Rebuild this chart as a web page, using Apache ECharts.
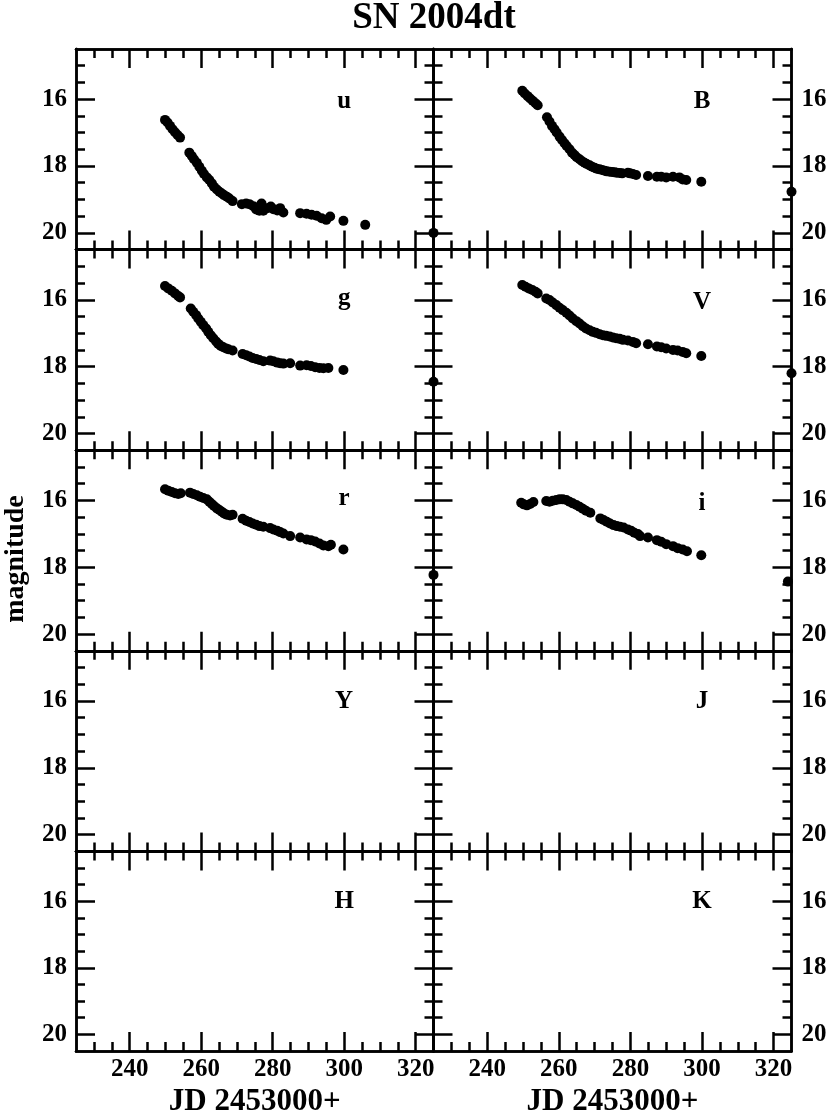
<!DOCTYPE html>
<html>
<head>
<meta charset="utf-8">
<script src="https://cdn.jsdelivr.net/npm/echarts@6/dist/echarts.min.js"></script>
<style>html,body{margin:0;padding:0;background:#fff}#c{width:830px;height:1118px}</style>
</head>
<body>
<div id="c"></div>
<script>
// ---- data (JD - 2453000, magnitude) ----
const bands = ['u', 'B', 'g', 'V', 'r', 'i', 'Y', 'J', 'H', 'K'];
const bandLabelJD = [300, 300, 300, 300, 300, 300, 300, 300, 300, 300];
const bandLabelMag = [16.08, 16.08, 15.96, 16.07, 15.96, 16.09, 16.02, 16.02, 16.0, 16.0];

const xMajorTicks = [240, 260, 280, 300, 320];
const xMinorTicks = [230, 235, 245, 250, 255, 265, 270, 275, 285, 290, 295, 305, 310, 315];
const yMajorTicks = [16, 18, 20];
const yMinorTicks = [15, 15.5, 16.5, 17, 17.5, 18.5, 19, 19.5];

const u = [[249.9,16.62],[250.6,16.70],[251.3,16.80],[252.0,16.90],[252.7,16.99],[253.4,17.07],[254.1,17.15],
[256.7,17.60],[257.4,17.70],[258.0,17.80],[258.8,17.90],[259.5,18.02],[260.2,18.14],[260.8,18.24],[261.6,18.34],
[262.3,18.42],[263.0,18.52],[263.6,18.62],[264.4,18.70],[265.1,18.77],[265.8,18.82],[266.4,18.87],[267.2,18.92],
[267.9,18.97],[268.8,19.05],[271.4,19.14],[272.6,19.12],[273.5,19.14],[274.6,19.20],[275.4,19.30],[276.3,19.34],
[276.9,19.12],[277.4,19.34],[278.5,19.26],[279.5,19.21],[280.2,19.29],[281.3,19.33],[282.1,19.26],[283.0,19.39],
[287.7,19.41],[289.5,19.43],[290.9,19.46],[292.3,19.49],[293.7,19.56],[295.0,19.61],[296.1,19.51],[299.8,19.64],
[305.9,19.76],[325.0,20.0]];

const B = [[249.8,15.75],[250.5,15.83],[251.3,15.91],[252.0,15.98],[252.7,16.05],[253.5,16.12],[254.1,16.18],
[256.7,16.54],[257.4,16.67],[258.1,16.80],[258.8,16.90],[259.4,17.00],[260.2,17.12],[260.9,17.22],[261.6,17.32],
[262.2,17.40],[263.0,17.50],[263.7,17.60],[264.4,17.67],[265.0,17.74],[265.8,17.80],[266.5,17.86],[267.2,17.90],
[267.8,17.94],[268.6,17.98],[269.3,18.02],[270.0,18.05],[270.6,18.08],[271.4,18.10],[272.1,18.12],[272.8,18.14],
[273.4,18.16],[274.2,18.17],[274.9,18.18],[275.6,18.19],[276.2,18.20],[277.0,18.21],[277.7,18.22],[279.3,18.20],
[279.9,18.22],[280.7,18.24],[281.6,18.27],[284.9,18.30],[287.4,18.32],[288.6,18.32],[290.0,18.34],[291.9,18.32],
[293.7,18.34],[294.6,18.40],[295.6,18.42],[299.8,18.47],[325.0,18.77]];

const g = [[249.9,15.59],[250.8,15.66],[251.8,15.73],[252.7,15.81],[253.6,15.89],[254.1,15.93],
[257.1,16.26],[257.8,16.36],[258.6,16.46],[259.2,16.56],[259.9,16.66],[260.6,16.76],[261.4,16.86],[262.0,16.96],
[262.7,17.06],[263.4,17.15],[264.2,17.25],[264.8,17.32],[265.5,17.38],[266.2,17.42],[267.0,17.46],[267.6,17.48],
[268.8,17.52],[271.6,17.62],[272.6,17.66],[273.5,17.70],[274.4,17.74],[275.4,17.77],[276.3,17.80],[277.4,17.84],
[279.3,17.82],[280.2,17.84],[281.3,17.88],[282.1,17.90],[283.0,17.91],[284.9,17.90],[287.7,17.97],[289.5,17.96],
[290.7,17.98],[291.9,18.02],[293.1,18.04],[294.2,18.05],[295.6,18.04],[299.8,18.10],[325.0,18.45]];

const V = [[249.8,15.56],[250.7,15.61],[251.6,15.66],[252.6,15.71],[253.5,15.76],[254.1,15.81],
[256.5,15.96],[257.4,16.01],[258.3,16.08],[259.3,16.16],[260.2,16.24],[261.1,16.31],[262.1,16.39],[263.0,16.47],
[263.9,16.56],[264.9,16.64],[265.8,16.71],[266.7,16.79],[267.6,16.86],[268.6,16.91],[269.5,16.96],[270.4,16.99],
[271.4,17.03],[272.3,17.06],[273.2,17.08],[274.2,17.10],[275.1,17.13],[276.0,17.15],[277.0,17.17],[277.9,17.20],
[279.3,17.22],[280.7,17.26],[281.6,17.30],[284.9,17.33],[287.4,17.40],[288.6,17.42],[290.0,17.46],[291.9,17.50],
[293.2,17.52],[294.6,17.56],[295.6,17.60],[299.8,17.68],[325.0,18.20]];

const r = [[249.9,15.67],[250.8,15.71],[251.8,15.75],[252.7,15.79],[253.6,15.81],[254.3,15.79],
[256.9,15.77],[257.8,15.81],[258.8,15.85],[259.7,15.89],[260.6,15.93],[261.6,15.97],[262.3,16.04],[263.0,16.11],
[263.6,16.17],[264.4,16.24],[265.1,16.29],[265.8,16.34],[266.4,16.39],[267.2,16.43],[268.1,16.45],[268.8,16.43],
[271.6,16.55],[272.6,16.61],[273.5,16.65],[274.4,16.69],[275.4,16.73],[276.3,16.77],[277.4,16.79],[279.3,16.83],
[280.2,16.87],[281.3,16.91],[282.1,16.95],[283.0,16.99],[284.9,17.07],[287.7,17.11],[289.5,17.17],[290.7,17.19],
[291.9,17.23],[293.1,17.29],[294.2,17.35],[295.6,17.37],[296.3,17.33],[299.8,17.47],[325.0,18.23]];

const i = [[249.5,16.07],[250.2,16.12],[251.1,16.15],[252.0,16.11],[252.9,16.05],
[256.5,16.02],[257.4,16.04],[258.3,16.01],[259.3,15.99],[260.2,15.97],[261.1,15.97],[262.1,15.99],[263.0,16.04],
[263.9,16.09],[264.9,16.14],[265.8,16.19],[266.7,16.25],[267.6,16.31],[268.8,16.37],
[271.6,16.54],[272.5,16.59],[273.4,16.64],[274.3,16.69],[275.3,16.74],[276.2,16.77],[277.1,16.79],[278.1,16.81],
[279.3,16.87],[280.2,16.91],[281.1,16.97],[282.1,17.01],[282.7,17.07],[284.9,17.11],[287.4,17.19],[288.6,17.24],
[290.0,17.31],[291.9,17.37],[293.2,17.43],[294.6,17.47],[295.8,17.52],[299.8,17.64],[324.0,18.43]];

const Y = [], J = [], H = [], K = [];
const bandData = [u, B, g, V, r, i, Y, J, H, K];

// ---- layout ----
const FONT = "'Liberation Serif', 'Times New Roman', serif";
const colLeft = [76, 433.5];
const colWidth = [357.5, 358];
const rowTop0 = 49, rowH = 200.6;
const LW = 2.5;

const grids = [], xAxes = [], yAxes = [], series = [];
const lineStyle = {color: '#000', width: LW};
const labelFont = {color: '#000', fontFamily: FONT, fontWeight: 'bold', fontSize: 25};

for (let k = 0; k < 10; k++) {
  const col = k % 2, row = Math.floor(k / 2);
  grids.push({left: colLeft[col], width: colWidth[col], top: rowTop0 + row * rowH, height: rowH, containLabel: false});
  const bottomRow = row === 4;
  ['bottom', 'top'].forEach(pos => {
    [true, false].forEach(major => {
      const showLab = major && pos === 'bottom' && bottomRow;
      const ax = {
        type: 'value', gridIndex: k, position: pos, min: 225, max: 325,
        axisLine: {show: true, onZero: false, lineStyle},
        axisTick: {show: true, inside: true, length: major ? 19 : 9,
          customValues: major ? xMajorTicks : xMinorTicks, lineStyle},
        axisLabel: Object.assign({show: showLab, customValues: xMajorTicks, margin: 6}, labelFont),
        splitLine: {show: false}
      };
      if (showLab) {
        ax.name = 'JD 2453000+';
        ax.nameLocation = 'middle';
        ax.nameGap = 35;
        ax.nameTextStyle = {color: '#000', fontFamily: FONT, fontWeight: 'bold', fontSize: 31};
      }
      xAxes.push(ax);
    });
  });
  ['left', 'right'].forEach(pos => {
    [true, false].forEach(major => {
      const showLab = major && ((col === 0 && pos === 'left') || (col === 1 && pos === 'right'));
      yAxes.push({
        type: 'value', gridIndex: k, position: pos, min: 14.5, max: 20.5, inverse: true,
        axisLine: {show: true, onZero: false, lineStyle},
        axisTick: {show: true, inside: true, length: major ? 19 : 9,
          customValues: major ? yMajorTicks : yMinorTicks, lineStyle},
        axisLabel: Object.assign({show: showLab, customValues: yMajorTicks, margin: pos === 'left' ? 9 : 10}, labelFont),
        splitLine: {show: false}
      });
    });
  });
  series.push({
    type: 'scatter', name: bands[k], xAxisIndex: 4 * k, yAxisIndex: 4 * k,
    data: bandData[k], symbol: 'circle', symbolSize: 10, clip: false, silent: true,
    itemStyle: {color: '#000', opacity: 1}
  });
  series.push({
    type: 'scatter', name: bands[k] + ' label', xAxisIndex: 4 * k, yAxisIndex: 4 * k,
    data: [[bandLabelJD[k], bandLabelMag[k]]], symbolSize: 0, silent: true, clip: false,
    itemStyle: {opacity: 1},
    label: Object.assign({show: true, formatter: bands[k], position: 'inside', opacity: 1}, labelFont)
  });
}

const chart = echarts.init(document.getElementById('c'), null, {renderer: 'canvas'});
chart.setOption({
  animation: false,
  backgroundColor: '#fff',
  title: {text: 'SN 2004dt', left: 434, top: 0, padding: 0, textAlign: 'center',
    textStyle: {color: '#000', fontFamily: FONT, fontWeight: 'bold', fontSize: 37}},
  grid: grids,
  xAxis: xAxes,
  yAxis: yAxes,
  series: series,
  graphic: [{
    type: 'text', x: 16, y: 559, rotation: Math.PI / 2,
    style: {text: 'magnitude', fill: '#000', font: "bold 28px 'Liberation Serif', serif",
      align: 'center', verticalAlign: 'middle'}
  }]
});
</script>
</body>
</html>
